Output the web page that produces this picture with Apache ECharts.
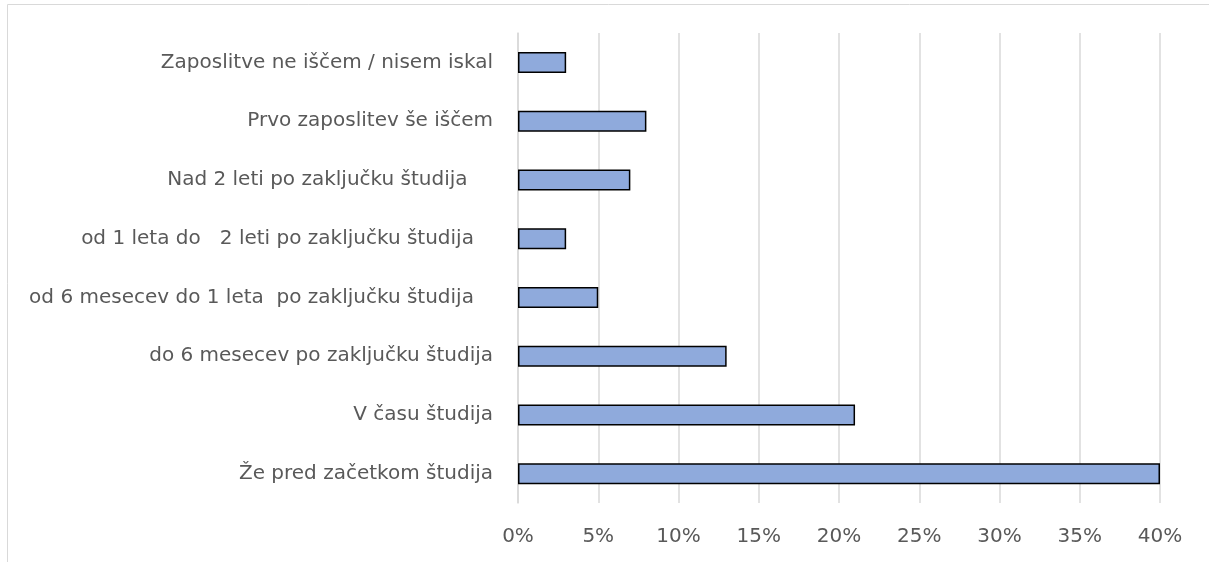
<!DOCTYPE html>
<html>
<head>
<meta charset="utf-8">
<script src="https://cdn.jsdelivr.net/npm/echarts@6/dist/echarts.min.js"></script>
<style>
  html, body { margin: 0; padding: 0; background: #fff; }
  #chart { width: 1209px; height: 562px; }
</style>
</head>
<body>
<div id="chart"></div>
<script>
// categories, bottom to top (as echarts draws category axes)
const categories = [
  "Že pred začetkom študija",
  "V času študija",
  "do 6 mesecev po zaključku študija",
  "od 6 mesecev do 1 leta  po zaključku študija   ",
  "od 1 leta do   2 leti po zaključku študija   ",
  "Nad 2 leti po zaključku študija    ",
  "Prvo zaposlitev še iščem",
  "Zaposlitve ne iščem / nisem iskal"
];
const shares = [40, 21, 13, 5, 3, 7, 8, 3];
const xTicks = { min: 0, max: 40, step: 5 };

const chart = echarts.init(document.getElementById("chart"));
const textColor = "#595959";
const fontFamily = "'DejaVu Sans', sans-serif";

chart.setOption({
  animation: false,
  grid: { left: 518, right: 49, top: 33, bottom: 59 },
  graphic: [
    {
      type: "rect",
      shape: { x: 7.5, y: 4.5, width: 1400, height: 800 },
      style: { fill: "none", stroke: "#d9d9d9", lineWidth: 1 },
      silent: true
    }
  ],
  xAxis: {
    type: "value",
    min: xTicks.min,
    max: xTicks.max,
    interval: xTicks.step,
    axisLine: { show: false },
    axisTick: { show: false },
    splitLine: { lineStyle: { color: "#d9d9d9", width: 1.5 } },
    axisLabel: {
      formatter: "{value}%",
      color: textColor,
      fontSize: 20,
      fontFamily: fontFamily,
      margin: 24
    }
  },
  yAxis: {
    type: "category",
    data: categories,
    axisLine: { show: true, lineStyle: { color: "#d9d9d9", width: 1.5 } },
    axisTick: { show: false },
    axisLabel: {
      color: textColor,
      fontSize: 20,
      fontFamily: fontFamily,
      margin: 25
    }
  },
  series: [
    {
      type: "bar",
      data: shares,
      barWidth: 21,
      itemStyle: {
        color: "#8faadc",
        borderColor: "#000",
        borderWidth: 1.5
      }
    }
  ]
});
</script>
</body>
</html>
